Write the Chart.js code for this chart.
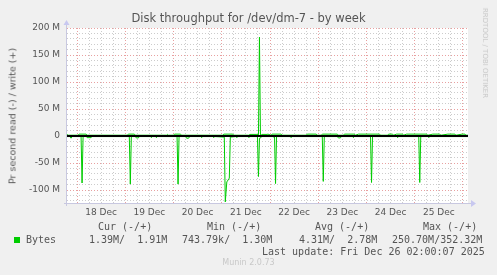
<!DOCTYPE html>
<html>
<head>
<meta charset="utf-8">
<script src="https://cdn.jsdelivr.net/npm/chart.js@4/dist/chart.umd.min.js"></script>
<style>
body { margin: 0; background: #f0f0f0; }
#wrap { position: relative; width: 497px; height: 275px; overflow: hidden; font-family: "DejaVu Sans", sans-serif; color: #555; }
canvas { position: absolute; left: 0; top: 0; }
.t { position: absolute; white-space: pre; }
.mono { font-family: "DejaVu Sans Mono", monospace; font-size: 10px; line-height: 12px; color: #555; }
#title { left: 0; width: 497px; top: 11px; text-align: center; font-size: 11.5px; line-height: 14px; }
#ylabel { left: 12px; top: 116px; transform: translate(-50%, -50%) rotate(-90deg); font-size: 9.5px; }
#rrd { left: 485px; top: 53px; transform: translate(-50%, -50%) rotate(90deg); font-size: 7px; color: #c8c8c8; }
#munin { left: 0; width: 497px; top: 258px; text-align: center; font-size: 8px; color: #c8c8c8; }
#swatch { position: absolute; left: 14px; top: 237px; width: 6px; height: 6px; background: #00cc00; }
</style>
</head>
<body>
<div id="wrap">
  <canvas id="chart" width="497" height="275"></canvas>
  <div class="t" id="title">Disk throughput for /dev/dm-7 - by week</div>
  <div class="t" id="ylabel">Pr second read (-) / write (+)</div>
  <div class="t" id="rrd">RRDTOOL / TOBI OETIKER</div>
  <div class="t mono" style="left:98px; top:221px">Cur (-/+)</div>
  <div class="t mono" style="left:207px; top:221px">Min (-/+)</div>
  <div class="t mono" style="left:315px; top:221px">Avg (-/+)</div>
  <div class="t mono" style="left:423px; top:221px">Max (-/+)</div>
  <div id="swatch"></div>
  <div class="t mono" style="left:26px; top:234px">Bytes</div>
  <div class="t mono" style="left:89px; top:234px">1.39M/  1.91M</div>
  <div class="t mono" style="left:182px; top:234px">743.79k/  1.30M</div>
  <div class="t mono" style="left:299px; top:234px">4.31M/  2.78M</div>
  <div class="t mono" style="left:392px; top:234px">250.70M/352.32M</div>
  <div class="t mono" style="left:262px; top:246px">Last update: Fri Dec 26 02:00:07 2025</div>
  <div class="t" id="munin">Munin 2.0.73</div>
</div>
<script>
// hours counted from 18 Dec 00:00, values in MB/s
const dayLabels = ['18 Dec', '19 Dec', '20 Dec', '21 Dec', '22 Dec', '23 Dec', '24 Dec', '25 Dec'];

const writeHours = [-5, -4.5, 0.5, 1, 4.5, 5, 25, 25.5, 28.5, 29, 44.5, 45, 45.5, 48, 48.5, 51.5, 52,
  72.5, 73, 77.5, 78, 85.5, 86, 89.5, 90.25, 90.75, 91.25, 92, 94.5, 95, 96.5, 97, 101.5, 102,
  114, 114.5, 119, 119.5, 121.5, 122, 129.5, 130, 132.5, 133, 138, 138.5, 140, 150.5, 151,
  154.5, 155, 157, 157.5, 159, 162, 162.5, 164, 174, 174.5, 177, 180.5, 181, 184.5, 188, 188.5,
  191.5, 193, 193.5, 194.5];
const writeValues = [3, 1.5, 1.5, 3.5, 3.5, 1.5, 1.5, 3.5, 3.5, 1.5, 1.5, 3, 1.5, 1.5, 3.5, 3.5, 1.5,
  1.5, 3.5, 3.5, 1.5, 1.5, 3, 3, 2, 183, 0.5, 3, 3, 3.5, 1.5, 3.5, 3.5, 1.5,
  1.5, 3.5, 3.5, 1.5, 1.5, 3.5, 3.5, 1.5, 1.5, 3.5, 3.5, 1.5, 3.5, 3.5, 1.5,
  1.5, 3.5, 3.5, 1.5, 3.5, 3.5, 1.5, 3.5, 3.5, 1.5, 3.5, 3.5, 1.5, 3.5, 3.5, 1.5,
  3.5, 3.5, 1.5, 1.5];

const readHours = [-5, -3.5, -3, -2.5, 2, 2.5, 3, 4.5, 5, 7, 7.5, 26, 26.5, 27, 29, 29.5, 30.5, 31,
  36.5, 37, 37.5, 39, 39.5, 40, 49.75, 50.25, 50.75, 54, 54.5, 55.5, 56, 61.5, 62, 62.5,
  67.5, 68, 68.5, 73.25, 73.75, 74.5, 75.75, 76.25, 79, 79.5, 80, 85, 85.5, 86,
  89.75, 90.25, 90.75, 91.5, 92, 97.5, 98, 98.25, 98.75, 99.25, 106, 106.5, 107,
  122, 122.5, 123, 129.5, 130, 131, 131.5, 137, 137.5, 138, 146, 146.5, 147,
  159, 159.5, 160, 170, 170.5, 171, 174.5, 175, 175.5, 194.5];
const readValues = [-1, -1, -4, -1, -1, -87, -1, -1, -3, -3, -1, -1, -89, -1, -1, -3.5, -3.5, -1,
  -1, -3, -1, -1, -3, -1, -1, -89, -1, -1, -4, -4, -1, -1, -3, -1,
  -1, -3, -1, -2, -122, -85, -78, -2, -1, -3, -1, -1, -3, -1,
  -1, -75, -4, -3, -1, -1, -3, -1, -88, -1, -1, -3, -1,
  -1, -84, -1, -1, -3.5, -3.5, -1, -1, -3, -1, -1, -86, -1,
  -1, -3, -1, -1, -86, -1, -1, -3, -1, -1];

const zeroHours = [-5, 194.5];
const zeroValues = [0, 0];

const toPoints = (hours, values) => hours.map((h, i) => ({ x: h, y: values[i] * 1e6 }));

// grid every 6 h / 10 M, like munin's minor grid
function stepTicks(scale, from, to, step, unit) {
    const ticks = [];
    for (let v = from; v <= to; v += step) ticks.push({ value: v * unit });
    scale.ticks = ticks;
}

const plotBackground = {
    id: 'plotBackground',
    beforeDraw(chart) {
        const { ctx, chartArea: a } = chart;
        ctx.save();
        ctx.fillStyle = '#ffffff';
        ctx.fillRect(a.left, a.top, a.right - a.left, a.bottom - a.top);
        ctx.restore();
    },
    beforeDatasetsDraw(chart) {
        const { ctx, chartArea: a } = chart;
        ctx.save();
        ctx.strokeStyle = '#c8c8e0';
        ctx.fillStyle = '#c8c8f0';
        ctx.lineWidth = 1;
        ctx.beginPath();
        ctx.moveTo(a.left - 0.5, a.bottom + 3);
        ctx.lineTo(a.left - 0.5, a.top - 4);
        ctx.moveTo(a.left - 3, a.bottom + 0.5);
        ctx.lineTo(a.right + 4, a.bottom + 0.5);
        ctx.stroke();
        ctx.beginPath();
        ctx.moveTo(a.left - 3.5, a.top - 3);
        ctx.lineTo(a.left + 2.5, a.top - 3);
        ctx.lineTo(a.left - 0.5, a.top - 8);
        ctx.fill();
        ctx.beginPath();
        ctx.moveTo(a.right + 3, a.bottom - 3);
        ctx.lineTo(a.right + 3, a.bottom + 4);
        ctx.lineTo(a.right + 8, a.bottom + 0.5);
        ctx.fill();
        ctx.restore();
    }
};

const tickFont = { family: 'DejaVu Sans', size: 9 };

new Chart(document.getElementById('chart'), {
    type: 'line',
    data: {
        datasets: [
            { data: toPoints(zeroHours, zeroValues), borderColor: '#000000', borderWidth: 2, order: 0 },
            { data: toPoints(writeHours, writeValues), borderColor: '#00cc00', borderWidth: 1, order: 1 },
            { data: toPoints(readHours, readValues), borderColor: '#00cc00', borderWidth: 1, order: 1 }
        ]
    },
    options: {
        responsive: false,
        animation: false,
        events: [],
        layout: { padding: { left: 0, right: 29, top: 28, bottom: 52 } },
        elements: { point: { radius: 0 }, line: { tension: 0 } },
        plugins: { legend: { display: false }, tooltip: { enabled: false } },
        scales: {
            x: {
                type: 'linear',
                min: -5,
                max: 194.5,
                afterBuildTicks: s => stepTicks(s, 0, 192, 6, 1),
                afterFit: s => { s.height = 20; },
                border: { display: false, dash: [1, 2] },
                grid: {
                    drawTicks: false,
                    color: c => c.tick.value % 24 === 0 ? '#e8a0a0' : '#cccccc'
                },
                ticks: {
                    autoSkip: false,
                    maxRotation: 0,
                    padding: 4,
                    color: '#555',
                    font: tickFont,
                    callback: v => (v % 24 === 12 ? dayLabels[(v - 12) / 24] : '')
                }
            },
            y: {
                min: -124e6,
                max: 200e6,
                afterBuildTicks: s => stepTicks(s, -120, 200, 10, 1e6),
                afterFit: s => { s.width = 67; },
                border: { display: false, dash: [1, 2] },
                grid: {
                    drawTicks: false,
                    color: c => Math.round(c.tick.value / 1e6) % 50 === 0 ? '#e8a0a0' : '#cccccc'
                },
                ticks: {
                    autoSkip: false,
                    padding: 7,
                    color: '#555',
                    font: tickFont,
                    callback: v => {
                        const m = Math.round(v / 1e6);
                        if (m % 50 !== 0) return '';
                        return m === 0 ? '0' : m + ' M';
                    }
                }
            }
        }
    },
    plugins: [plotBackground]
});
</script>
</body>
</html>
